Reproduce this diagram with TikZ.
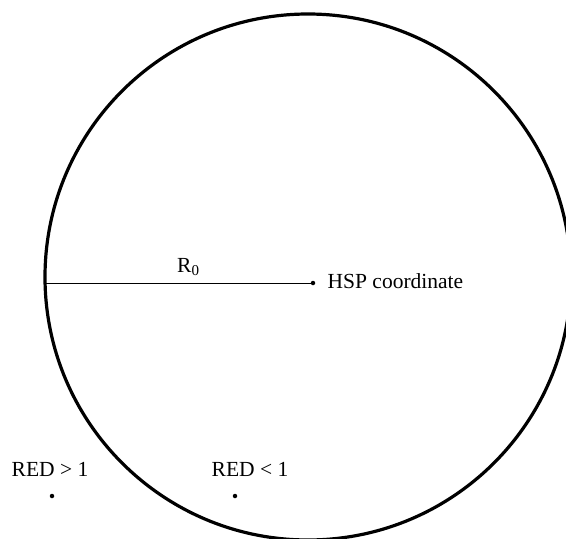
\documentclass[tikz,border=0pt]{standalone}
\usepackage{fontspec}
\setmainfont{Liberation Serif}
\usetikzlibrary{positioning}
\tikzset{
    spot/.style={circle,fill=black,inner sep=0pt,minimum size=4.5pt},
    tag/.style={font=\fontsize{21.5}{25}\selectfont,inner sep=0pt},
    rim/.style={line width=3.2pt}
}

\begin{document}
\begin{tikzpicture}[x=1pt,y=-1pt]
\useasboundingbox (0,0) rectangle (566,539);
\clip (0,0) rectangle (566,539);

% region
\draw[rim] (308,277) circle (263pt);

% centre and radius
\coordinate (rimleft) at (45,283);
\node[spot] (hsp) at (313,283) {};
\draw[line width=1pt] (rimleft) -- (hsp)
    node[pos=0.54,above=7pt,tag] (rlabel) {R\textsubscript{0}};
\node[tag,right=12pt of hsp,yshift=2pt] (hsplabel) {HSP coordinate};

% test points
\node[spot] (gtdot) at (52,496) {};
\node[spot] (ltdot) at (235,496) {};
\node[tag,anchor=base] (gtlabel) at (50,476) {RED > 1};
\node[tag,anchor=base] (ltlabel) at (250,476) {RED < 1};

\end{tikzpicture}
\end{document}
